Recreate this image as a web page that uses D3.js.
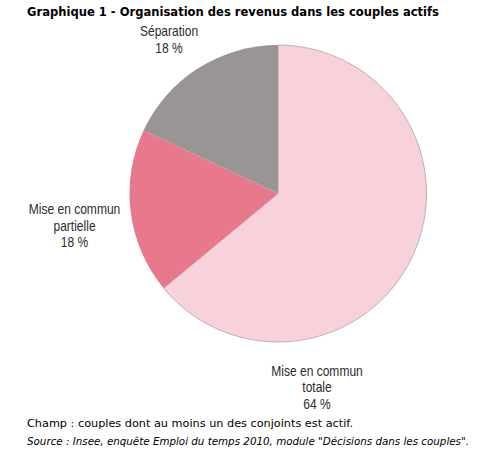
<!DOCTYPE html>
<html>
<head>
<meta charset="utf-8">
<script src="https://cdn.jsdelivr.net/npm/d3@7/dist/d3.min.js"></script>
<style>
  html, body { margin: 0; padding: 0; background: #fff; }
  svg { display: block; }
</style>
</head>
<body>
<svg id="chart" width="489" height="455"></svg>
<script>
// ---- data ----
const categories = ["Mise en commun totale", "Mise en commun partielle", "Séparation"];
const labelLines = [["Mise en commun", "totale"], ["Mise en commun", "partielle"], ["Séparation"]];
const values = [64, 18, 18];
const valueLabels = ["64 %", "18 %", "18 %"];
const title = "Graphique 1 - Organisation des revenus dans les couples actifs";
const noteChamp = "Champ : couples dont au moins un des conjoints est actif.";
const noteSource = "Source : Insee, enquête Emploi du temps 2010, module \"Décisions dans les couples\".";

// ---- layout / style (not data) ----
const colors = ["#F7D2DA", "#E8798D", "#989594"];
const cx = 278, cy = 193.5, radius = 148.5;
// label block centre x and first baseline y (page coordinates)
const labelPos = [[317, 375.5], [74.5, 214], [169, 36]];
const lineH = 16.6;
const narrow = 0.86; // horizontal condensing of label font

const svg = d3.select("#chart");

svg.append("text")
  .attr("x", 27).attr("y", 16)
  .attr("font-family", "Verdana, 'DejaVu Sans', sans-serif")
  .attr("font-weight", "bold")
  .attr("font-size", 12)
  .attr("fill", "#000")
  .attr("textLength", 412).attr("lengthAdjust", "spacingAndGlyphs")
  .text(title);

const pie = d3.pie().sort(null).value(d => d).startAngle(0).endAngle(2 * Math.PI);
const arc = d3.arc().innerRadius(0).outerRadius(radius);
const arcs = pie(values);

const g = svg.append("g").attr("transform", `translate(${cx},${cy})`);
g.selectAll("path.slice")
  .data(arcs)
  .join("path")
  .attr("class", "slice")
  .attr("d", arc)
  .attr("fill", (d, i) => colors[i])
  .attr("stroke", (d, i) => i === 0 ? "#a8979b" : "none")
  .attr("stroke-width", 0.7);

// labels
const lab = svg.append("g")
  .attr("font-family", "'Liberation Sans', Arial, sans-serif")
  .attr("font-size", 14)
  .attr("fill", "#2b2b2b");

categories.forEach((c, i) => {
  const lines = labelLines[i].concat([valueLabels[i]]);
  const [x, y0] = labelPos[i];
  lines.forEach((t, j) => {
    lab.append("text")
      .attr("transform", `translate(${x},${y0 + j * lineH}) scale(${narrow},1)`)
      .attr("text-anchor", "middle")
      .text(t);
  });
});

svg.append("text")
  .attr("x", 27).attr("y", 426.5)
  .attr("font-family", "Verdana, 'DejaVu Sans', sans-serif")
  .attr("font-size", 10.5)
  .attr("fill", "#000")
  .attr("textLength", 326).attr("lengthAdjust", "spacingAndGlyphs")
  .text(noteChamp);

svg.append("text")
  .attr("x", 27).attr("y", 445)
  .attr("font-family", "Verdana, 'DejaVu Sans', sans-serif")
  .attr("font-size", 10.5)
  .attr("font-style", "italic")
  .attr("fill", "#000")
  .attr("textLength", 442).attr("lengthAdjust", "spacingAndGlyphs")
  .text(noteSource);
</script>
</body>
</html>
